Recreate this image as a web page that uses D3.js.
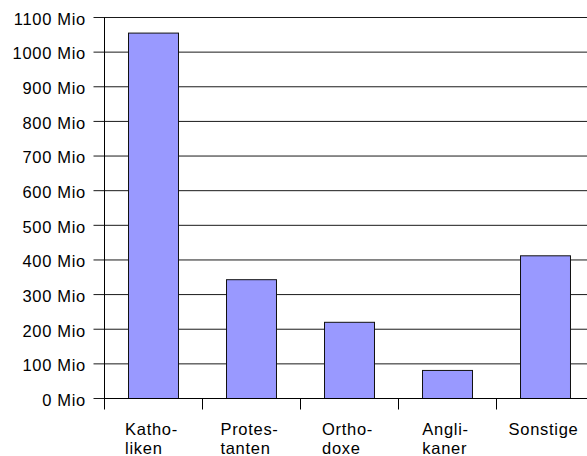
<!DOCTYPE html>
<html>
<head>
<meta charset="utf-8">
<script src="https://cdn.jsdelivr.net/npm/d3@7"></script>
<style>
  html, body { margin: 0; padding: 0; background: #fff; }
  svg { display: block; font-family: "Liberation Sans", Arial, sans-serif; }
</style>
</head>
<body>
<svg width="587" height="456"></svg>
<script>
  // Christen weltweit nach Konfession
  const categories = ['Katholiken', 'Protestanten', 'Orthodoxe', 'Anglikaner', 'Sonstige'];
  const labelLines = [['Katho-', 'liken'], ['Protes-', 'tanten'], ['Ortho-', 'doxe'], ['Angli-', 'kaner'], ['Sonstige']];
  const values = [1055, 343, 220, 81, 412];  // Mio
  const yTicks = [0, 100, 200, 300, 400, 500, 600, 700, 800, 900, 1000, 1100];

  const svg = d3.select('svg');

  // plot area (runs past the right edge of the window, as in the original)
  const plotLeft = 104.5, plotRight = 594.5, plotTop = 17.5, plotBottom = 398.5;
  const fontSize = 16.5, letterSp = 0.7;

  const x = d3.scaleBand().domain(categories).range([plotLeft, plotRight]).padding(0);
  const y = d3.scaleLinear().domain([0, 1100]).range([plotBottom, plotTop]);

  const barW = x.bandwidth() * 0.51;

  // horizontal grid lines incl. tick stubs on the left
  svg.append('g')
    .selectAll('line')
    .data(yTicks)
    .join('line')
    .attr('x1', plotLeft - 11)
    .attr('x2', 587)
    .attr('y1', d => y(d))
    .attr('y2', d => y(d))
    .attr('stroke', '#1a1a1a')
    .attr('stroke-width', 1);

  // y labels
  svg.append('g')
    .selectAll('text')
    .data(yTicks)
    .join('text')
    .attr('x', 86)
    .attr('y', d => y(d) + 7.3)
    .attr('text-anchor', 'end')
    .attr('font-size', fontSize)
    .attr('letter-spacing', letterSp)
    .attr('fill', '#000')
    .text(d => d + ' Mio');

  // bars
  svg.append('g')
    .selectAll('rect')
    .data(values)
    .join('rect')
    .attr('x', (d, i) => x(categories[i]) + (x.bandwidth() - barW) / 2)
    .attr('y', d => y(d))
    .attr('width', barW)
    .attr('height', d => plotBottom - y(d))
    .attr('fill', '#9999ff')
    .attr('stroke', '#111')
    .attr('stroke-width', 1);

  // y axis line
  svg.append('line')
    .attr('x1', plotLeft).attr('x2', plotLeft)
    .attr('y1', plotTop).attr('y2', plotBottom)
    .attr('stroke', '#000');

  // x axis line + ticks at category boundaries
  svg.append('line')
    .attr('x1', plotLeft).attr('x2', 587)
    .attr('y1', plotBottom).attr('y2', plotBottom)
    .attr('stroke', '#000');

  svg.append('g')
    .selectAll('line')
    .data(categories)
    .join('line')
    .attr('x1', d => x(d))
    .attr('x2', d => x(d))
    .attr('y1', plotBottom)
    .attr('y2', plotBottom + 11)
    .attr('stroke', '#000');

  // category labels: lines left-aligned, block centred on the band
  const labelG = svg.append('g')
    .selectAll('g')
    .data(categories)
    .join('g');

  labelG.each(function (d, i) {
    const g = d3.select(this);
    const t = g.append('text')
      .attr('font-size', fontSize)
      .attr('letter-spacing', letterSp)
      .attr('fill', '#000');
    labelLines[i].forEach((line, j) => {
      t.append('tspan')
        .attr('x', 0)
        .attr('y', 435 + j * 18.5)
        .text(line);
    });
    const w = t.node().getBBox().width;
    g.attr('transform', `translate(${x(d) + x.bandwidth() / 2 - w / 2 - 2},0)`);
  });
</script>
</body>
</html>
